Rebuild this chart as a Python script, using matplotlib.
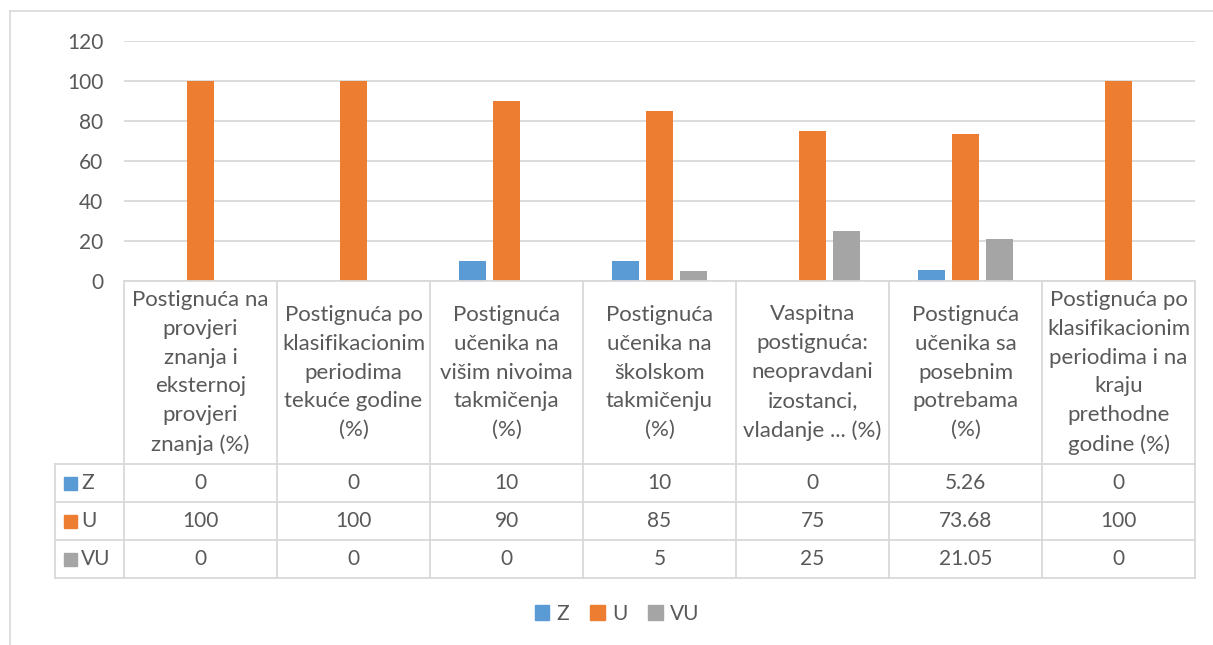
import matplotlib
matplotlib.use("Agg")
import matplotlib.pyplot as plt
from matplotlib.lines import Line2D
from matplotlib.patches import Rectangle

categories = [
    "Postignuća na\nprovjeri\nznanja i\neksternoj\nprovjeri\nznanja (%)",
    "Postignuća po\nklasifikacionim\nperiodima\ntekuće godine\n(%)",
    "Postignuća\nučenika na\nvišim nivoima\ntakmičenja\n(%)",
    "Postignuća\nučenika na\nškolskom\ntakmičenju\n(%)",
    "Vaspitna\npostignuća:\nneopravdani\nizostanci,\nvladanje ... (%)",
    "Postignuća\nučenika sa\nposebnim\npotrebama\n(%)",
    "Postignuća po\nklasifikacionim\nperiodima i na\nkraju\nprethodne\ngodine (%)",
]
series_names = ["Z", "U", "VU"]
z_values = [0, 0, 10, 10, 0, 5.26, 0]
u_values = [100, 100, 90, 85, 75, 73.68, 100]
vu_values = [0, 0, 0, 5, 25, 21.05, 0]
colors = ["#5b9bd5", "#ed7d31", "#a5a5a5"]

W, H = 1213, 645
TXT = "#595959"
GRID = "#d9d9d9"
FONT = "Lato"
FS = 15        # numbers, legend
FS_HEAD = 16   # category names in the table header

plt.rcParams["font.family"] = [FONT, "DejaVu Sans"]

fig = plt.figure(figsize=(W / 100, H / 100), dpi=100)


def box(left, top, right, bottom):
    return [left / W, 1 - bottom / H, (right - left) / W, (bottom - top) / H]


# outer chart frame
fig.add_artist(Line2D([10 / W, 1], [1 - 11 / H, 1 - 11 / H], color=GRID, lw=1.2))
fig.add_artist(Line2D([10 / W, 10 / W], [0, 1 - 11 / H], color=GRID, lw=1.2))

# bar area
ax = fig.add_axes(box(124, 41, 1195, 281))
n = len(categories)
all_series = [z_values, u_values, vu_values]
step = 0.222
width = 0.176
for k, vals in enumerate(all_series):
    xs = [i + 0.5 + (k - 1) * step for i in range(n)]
    ax.bar(xs, vals, width=width, color=colors[k], zorder=3)
ax.set_xlim(0, n)
ax.set_ylim(0, 120)
ax.set_yticks(range(0, 121, 20))
ax.set_xticks([])
ax.tick_params(axis="y", length=0, pad=15, labelsize=FS, labelcolor=TXT)
ax.grid(axis="y", color=GRID, lw=1.3, zorder=0)
for s in ax.spines.values():
    s.set_visible(False)

# data table below
tab = fig.add_axes(box(55, 281, 1195, 578))
label_w = 69 / 153
tab.set_xlim(-label_w, n)
tab.set_ylim(297, 0)
tab.axis("off")
header_h = 183
row_h = 38
lw = 1.3
# horizontal lines
tab.plot([0, n], [0, 0], color=GRID, lw=lw, clip_on=False)
for r in range(4):
    y = header_h + r * row_h
    tab.plot([-label_w, n], [y, y], color=GRID, lw=lw, clip_on=False)
# vertical lines
for i in range(n + 1):
    tab.plot([i, i], [0, 297], color=GRID, lw=lw, clip_on=False)
tab.plot([-label_w, -label_w], [header_h, 297], color=GRID, lw=lw, clip_on=False)

for i, cat in enumerate(categories):
    tab.text(i + 0.5, header_h / 2, cat, ha="center", va="center",
             fontsize=FS_HEAD, color=TXT, linespacing=1.55)

for r, (name, vals) in enumerate(zip(series_names, all_series)):
    yc = header_h + r * row_h + row_h / 2
    tab.add_patch(Rectangle((-label_w + 9 / 153, yc - 6.5), 13 / 153, 13,
                            color=colors[r], clip_on=False))
    tab.text(-label_w + 26 / 153, yc, name, ha="left", va="center",
             fontsize=FS, color=TXT)
    for i, v in enumerate(vals):
        tab.text(i + 0.5, yc, f"{v:g}", ha="center", va="center",
                 fontsize=FS, color=TXT)

# legend
handles = [Rectangle((0, 0), 1, 1, color=c) for c in colors]
fig.legend(handles, series_names, loc="center", bbox_to_anchor=(617 / W, 1 - 614 / H),
           ncol=3, frameon=False, fontsize=FS, labelcolor=TXT,
           handlelength=0.7, handleheight=0.7, handletextpad=0.35, columnspacing=1.0)

fig.savefig("out.png", dpi=100)
